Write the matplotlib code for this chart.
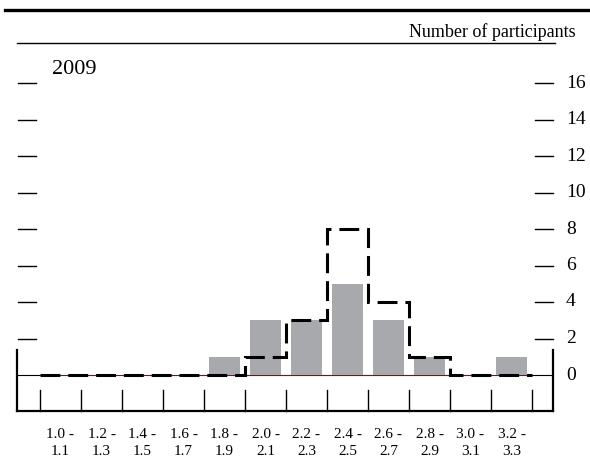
import numpy as np
import matplotlib
matplotlib.use("Agg")
import matplotlib.pyplot as plt

categories = ["1.0 -\n1.1", "1.2 -\n1.3", "1.4 -\n1.5", "1.6 -\n1.7", "1.8 -\n1.9", "2.0 -\n2.1",
              "2.2 -\n2.3", "2.4 -\n2.5", "2.6 -\n2.7", "2.8 -\n2.9", "3.0 -\n3.1", "3.2 -\n3.3"]
current = [0, 0, 0, 0, 1, 3, 3, 5, 3, 1, 0, 1]
previous = [0, 0, 0, 0, 0, 1, 3, 8, 4, 1, 0, 0]
ytick_values = [0, 2, 4, 6, 8, 10, 12, 14, 16]
year_label = "2009"
unit_label = "Number of participants"

serif = ["Liberation Serif", "DejaVu Serif"]
plt.rcParams["font.family"] = serif

W, H = 590, 470
fig = plt.figure(figsize=(W / 100, H / 100), dpi=100)

# axes frame in pixels: left 17, right 553, top 43, bottom 411
L, R, T, B = 17, 553, 43, 411
ax = fig.add_axes([L / W, (H - B) / H, (R - L) / W, (B - T) / H])
n = len(categories)
step = 41.0
x0px = 40.0
xmin = (L - x0px) / step - 0.5
xmax = (R - x0px) / step - 0.5
zero_px = 375.0
ppu = 18.25
ymin = -(B - zero_px) / ppu
ymax = (zero_px - T) / ppu
ax.set_xlim(xmin, xmax)
ax.set_ylim(ymin, ymax)
ax.axis("off")

x = np.arange(n)
edges = np.arange(n + 1) - 0.5

# zero line
ax.axhline(0, color="black", lw=0.8, zorder=1)
# bars
ax.bar(x, current, width=0.78, color="#a7a9ac", zorder=2, linewidth=0)
ax.plot([-0.5, n - 0.5], [0, 0], color="#b04040", lw=0.6, zorder=2.5, alpha=0.6)
# previous projections as dashed stairs
ax.stairs(previous, edges, baseline=None, color="black", lw=2.2,
          linestyle=(0, (6.5, 2.6)), zorder=3)

# bottom frame
yt = ax.get_yaxis_transform()
ax.plot([0, 1], [0, 0], transform=ax.transAxes, color="black", lw=1.6, clip_on=False)
side_top = -(350 - zero_px) / ppu
ax.plot([xmin, xmin], [ymin, side_top], color="black", lw=1.6, clip_on=False)
ax.plot([xmax, xmax], [ymin, side_top], color="black", lw=1.6, clip_on=False)
# category boundary ticks
tick_top = -(390 - zero_px) / ppu
for e in edges:
    ax.plot([e, e], [ymin, tick_top], color="black", lw=1.0, clip_on=False)

# category labels
for xi, lab in zip(x, categories):
    ax.text(xi, -(443 - zero_px) / ppu, lab, ha="center", va="center",
            fontsize=11, linespacing=1.4)

# y ticks: short dashes on both sides, labels on right
lx0, lx1 = (18 - L) / (R - L), (36 - L) / (R - L)
rx0, rx1 = (535 - L) / (R - L), (553 - L) / (R - L)
for v in ytick_values:
    if v > 0:
        ax.plot([lx0, lx1], [v, v], transform=yt, color="black", lw=1.0, clip_on=False)
        ax.plot([rx0, rx1], [v, v], transform=yt, color="black", lw=1.0, clip_on=False)
    ax.text((566 - L) / (R - L), v, str(v), transform=yt, ha="left", va="center",
            fontsize=14)

# top lines
ax.plot([0, (555 - L) / (R - L)], [1, 1], transform=ax.transAxes, color="black",
        lw=1.0, clip_on=False)
fig.add_artist(plt.Line2D([5 / W, 1], [1 - 10 / H, 1 - 10 / H], color="black", lw=2.4))

fig.text(576 / W, 1 - 32 / H, unit_label, ha="right", va="center", fontsize=13)
fig.text(52 / W, 1 - 70 / H, year_label, ha="left", va="center", fontsize=16)

fig.savefig("out.png", dpi=100)
